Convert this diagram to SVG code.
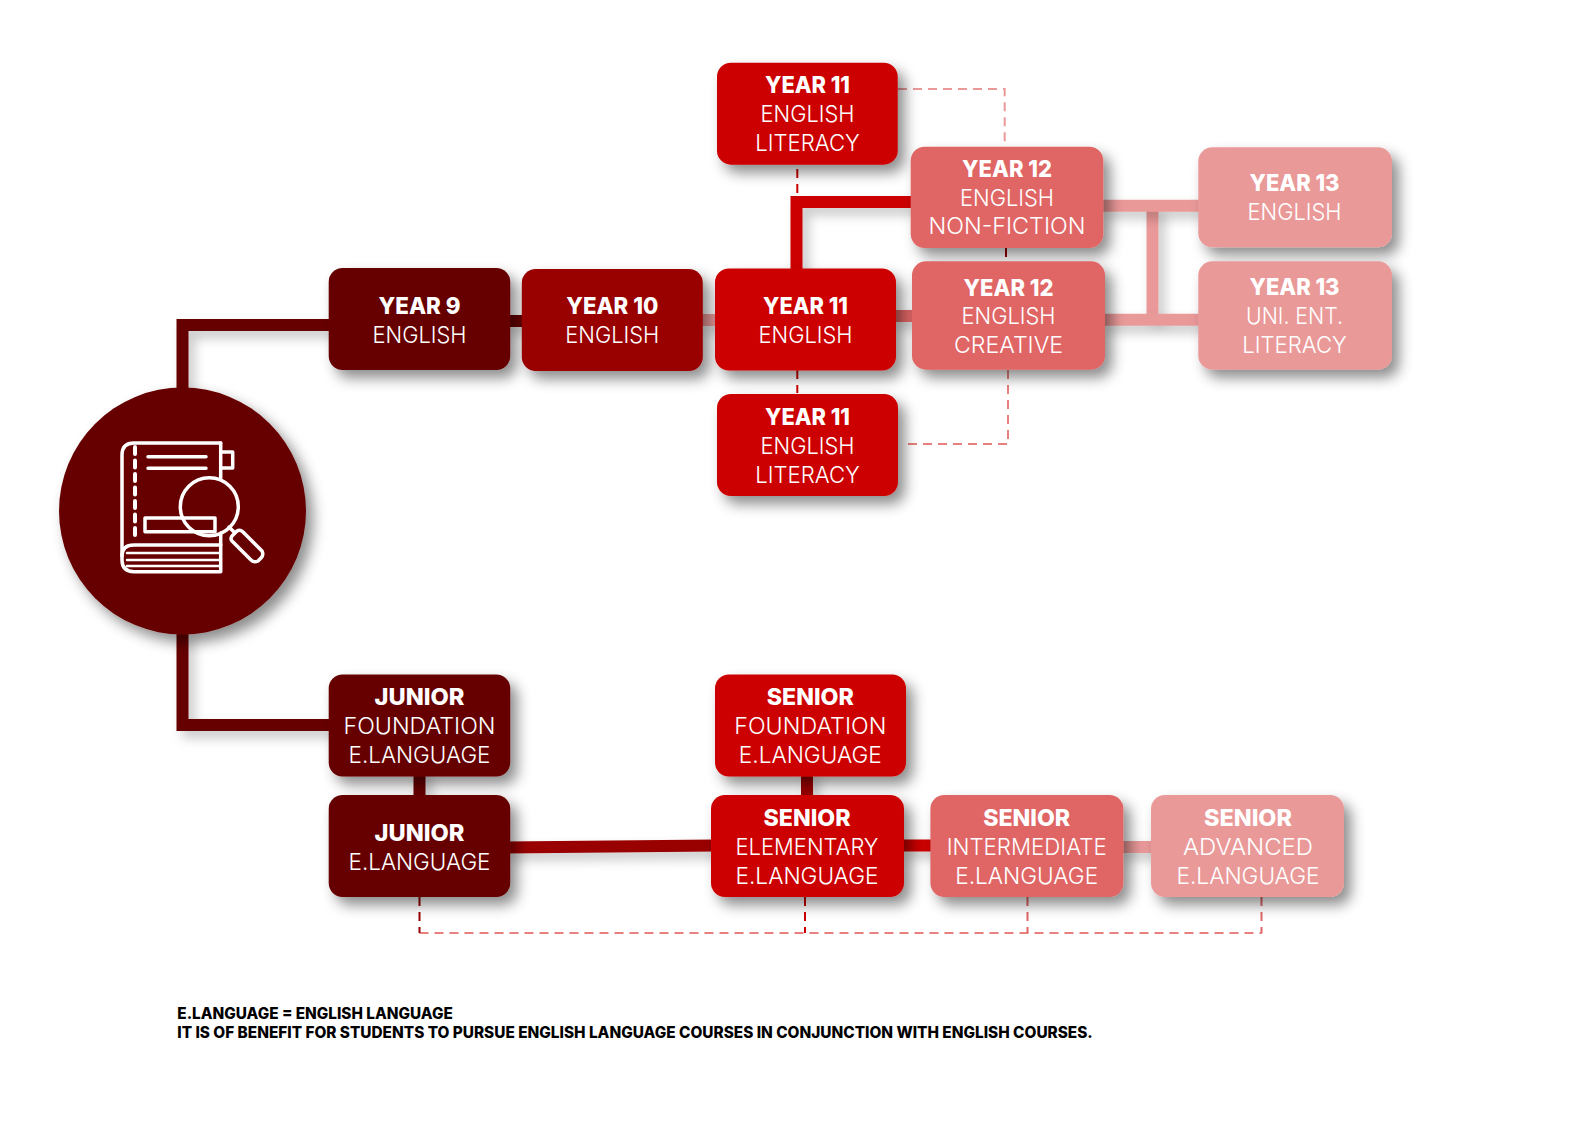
<svg xmlns="http://www.w3.org/2000/svg" width="1586" height="1122" viewBox="0 0 1586 1122">
<style>
text{font-family:"Inter","Noto Sans","Liberation Sans",sans-serif;fill:#fff;text-anchor:middle}
.b{font-size:23px;font-weight:800}
.r{font-size:23px;font-weight:300}
.f{font-size:15.5px;font-weight:800;fill:#000;text-anchor:start}
.n{filter:url(#s)}
.c{fill:none;stroke-width:12;filter:url(#s2)}
.d{fill:none;stroke-width:2;stroke-dasharray:9 6}
.i{fill:none;stroke:#fff;stroke-width:3.500;stroke-linecap:round;stroke-linejoin:round}
.c1{fill:#660000}.c2{fill:#990000}.c3{fill:#cc0000}.c4{fill:#e06666}.c5{fill:#ea9999}
</style>
<defs>
<filter id="s" x="-20%" y="-20%" width="150%" height="150%"><feDropShadow dx="7" dy="8" stdDeviation="7" flood-color="#000" flood-opacity=".45"/></filter>
<filter id="s2" x="0" y="0" width="1586" height="1122" filterUnits="userSpaceOnUse"><feDropShadow dx="6" dy="7" stdDeviation="6" flood-color="#000" flood-opacity=".22"/></filter>
</defs>
<g id="connectors">
<path class="d" stroke="#ea9999" d="M898 89H1004.700V143"/>
<path class="d" stroke="#cc0000" d="M797.300 169V196"/>
<path class="d" stroke="#cc0000" d="M797.300 370V393"/>
<path class="d" stroke="#990000" d="M1006 248V261"/>
<path class="d" stroke="#e88080" d="M1008 370V444H903"/>
<path class="d" stroke="#e88080" d="M419.500 933H1262"/>
<path class="d" stroke="#990000" d="M419.500 897V933"/>
<path class="d" stroke="#cc0000" d="M805 897V933"/>
<path class="d" stroke="#e06666" d="M1027.500 897V933"/>
<path class="d" stroke="#e06666" d="M1261.500 897V933"/>
<path class="c" stroke="#660000" d="M182.500 390V325H330"/>
<path class="c" stroke="#660000" d="M182.500 630V725H330"/>
<path class="c" stroke="#660000" d="M505 321H525"/>
<path class="c" stroke="#ea9999" d="M700 320H720"/>
<path class="c" stroke="#e06666" d="M890 316H915"/>
<path class="c" stroke="#cc0000" d="M796.500 270V202H915"/>
<path class="c" stroke="#ea9999" d="M1152.500 206V318"/>
<path class="c" stroke="#ea9999" d="M1100 205.700H1200"/>
<path class="c" stroke="#ea9999" d="M1100 319.700H1200"/>
<path class="c" stroke="#660000" d="M419.500 770V800"/>
<path class="c" stroke="#990000" d="M505 847.500L715 845.500"/>
<path class="c" stroke="#990000" d="M807 770V800"/>
<path class="c" stroke="#cc0000" d="M900 845.500H935"/>
<path class="c" stroke="#ea9999" d="M1118 847H1155"/>
</g>
<g id="hub">
<circle class="n c1" cx="182.500" cy="511" r="123.500"/>
<g class="i">
<path d="M220.700 443H134Q122 443 122 455V560Q122 571.700 134 571.700H220.700V533"/>
<path d="M220.700 443V478"/>
<path d="M122 556Q122 545 134 545H220.700"/>
<path d="M127 553H220M127 560H220M127 566H220" stroke-width="2.500"/>
<path d="M135 447V538" stroke-width="4" stroke-dasharray="7 6.500"/>
<path d="M148 456.700H206M148 468.300H206"/>
<path d="M220.700 452H232.700V468H220.700"/>
<path d="M145 518H215V531.700H145Z"/>
<circle cx="209.300" cy="506.700" r="29"/>
<path d="M229 527L234 532"/>
<path d="M232 536L237 531Q240 529 243 532L262 551Q264 555 261 558L258 561Q254 563 251 560L232 541Q230 539 232 536Z"/>
</g>
</g>
<g id="y9"><rect class="n c1" x="328.700" y="268" width="181.500" height="102" rx="14"/><text class="b" x="419.500" y="313.500" textLength="82" lengthAdjust="spacingAndGlyphs">YEAR 9</text><text class="r" x="419.500" y="342.500" textLength="94" lengthAdjust="spacingAndGlyphs">ENGLISH</text></g>
<g id="y10"><rect class="n c2" x="521.800" y="269" width="181" height="102" rx="14"/><text class="b" x="612.300" y="313.500" textLength="92" lengthAdjust="spacingAndGlyphs">YEAR 10</text><text class="r" x="612.300" y="342.500" textLength="94" lengthAdjust="spacingAndGlyphs">ENGLISH</text></g>
<g id="y11"><rect class="n c3" x="715" y="268.500" width="181" height="102" rx="14"/><text class="b" x="805.500" y="313.500" textLength="85" lengthAdjust="spacingAndGlyphs">YEAR 11</text><text class="r" x="805.500" y="342.500" textLength="94" lengthAdjust="spacingAndGlyphs">ENGLISH</text></g>
<g id="y11a"><rect class="n c3" x="717" y="62.700" width="180.700" height="102" rx="14"/><text class="b" x="807.500" y="93.300" textLength="85" lengthAdjust="spacingAndGlyphs">YEAR 11</text><text class="r" x="807.500" y="122.300" textLength="94" lengthAdjust="spacingAndGlyphs">ENGLISH</text><text class="r" x="807.500" y="151" textLength="104.500" lengthAdjust="spacingAndGlyphs">LITERACY</text></g>
<g id="y11b"><rect class="n c3" x="717" y="394" width="181" height="102" rx="14"/><text class="b" x="807.500" y="424.700" textLength="85" lengthAdjust="spacingAndGlyphs">YEAR 11</text><text class="r" x="807.500" y="453.700" textLength="94" lengthAdjust="spacingAndGlyphs">ENGLISH</text><text class="r" x="807.500" y="482.700" textLength="104.500" lengthAdjust="spacingAndGlyphs">LITERACY</text></g>
<g id="y12a"><rect class="n c4" x="910.700" y="146.700" width="192.600" height="101.300" rx="14"/><text class="b" x="1007" y="176.500" textLength="90" lengthAdjust="spacingAndGlyphs">YEAR 12</text><text class="r" x="1007" y="205.500" textLength="94" lengthAdjust="spacingAndGlyphs">ENGLISH</text><text class="r" x="1007" y="234.300" textLength="157" lengthAdjust="spacingAndGlyphs">NON-FICTION</text></g>
<g id="y12b"><rect class="n c4" x="912" y="261.300" width="193" height="108.400" rx="14"/><text class="b" x="1008.500" y="295.500" textLength="90" lengthAdjust="spacingAndGlyphs">YEAR 12</text><text class="r" x="1008.500" y="324" textLength="94" lengthAdjust="spacingAndGlyphs">ENGLISH</text><text class="r" x="1008.500" y="353" textLength="109" lengthAdjust="spacingAndGlyphs">CREATIVE</text></g>
<g id="y13a"><rect class="n c5" x="1198.300" y="147.300" width="193.700" height="100" rx="14"/><text class="b" x="1294.500" y="191" textLength="90" lengthAdjust="spacingAndGlyphs">YEAR 13</text><text class="r" x="1294.500" y="220" textLength="94" lengthAdjust="spacingAndGlyphs">ENGLISH</text></g>
<g id="y13b"><rect class="n c5" x="1198.300" y="261.300" width="193.700" height="108.400" rx="14"/><text class="b" x="1294.500" y="295" textLength="90" lengthAdjust="spacingAndGlyphs">YEAR 13</text><text class="r" x="1294.500" y="324" textLength="97" lengthAdjust="spacingAndGlyphs">UNI. ENT.</text><text class="r" x="1294.500" y="353" textLength="104.500" lengthAdjust="spacingAndGlyphs">LITERACY</text></g>
<g id="jf"><rect class="n c1" x="328.700" y="674.500" width="181.500" height="102" rx="14"/><text class="b" x="419.500" y="705" textLength="90" lengthAdjust="spacingAndGlyphs">JUNIOR</text><text class="r" x="419.500" y="734" textLength="152" lengthAdjust="spacingAndGlyphs">FOUNDATION</text><text class="r" x="419.500" y="763" textLength="142" lengthAdjust="spacingAndGlyphs">E.LANGUAGE</text></g>
<g id="j"><rect class="n c1" x="328.700" y="795" width="181.500" height="102" rx="14"/><text class="b" x="419.500" y="840.500" textLength="90" lengthAdjust="spacingAndGlyphs">JUNIOR</text><text class="r" x="419.500" y="869.500" textLength="142" lengthAdjust="spacingAndGlyphs">E.LANGUAGE</text></g>
<g id="sf"><rect class="n c3" x="715" y="674.500" width="191" height="102" rx="14"/><text class="b" x="810.300" y="705" textLength="87" lengthAdjust="spacingAndGlyphs">SENIOR</text><text class="r" x="810.300" y="734" textLength="152" lengthAdjust="spacingAndGlyphs">FOUNDATION</text><text class="r" x="810.300" y="763" textLength="143" lengthAdjust="spacingAndGlyphs">E.LANGUAGE</text></g>
<g id="se"><rect class="n c3" x="711" y="795" width="193" height="102" rx="14"/><text class="b" x="807" y="825.500" textLength="87" lengthAdjust="spacingAndGlyphs">SENIOR</text><text class="r" x="807" y="854.500" textLength="143" lengthAdjust="spacingAndGlyphs">ELEMENTARY</text><text class="r" x="807" y="883.500" textLength="143" lengthAdjust="spacingAndGlyphs">E.LANGUAGE</text></g>
<g id="si"><rect class="n c4" x="930.400" y="795" width="193" height="102" rx="14"/><text class="b" x="1026.700" y="825.500" textLength="87" lengthAdjust="spacingAndGlyphs">SENIOR</text><text class="r" x="1026.700" y="854.500" textLength="160" lengthAdjust="spacingAndGlyphs">INTERMEDIATE</text><text class="r" x="1026.700" y="883.500" textLength="143" lengthAdjust="spacingAndGlyphs">E.LANGUAGE</text></g>
<g id="sa"><rect class="n c5" x="1151" y="795" width="193" height="102" rx="14"/><text class="b" x="1248" y="825.500" textLength="88" lengthAdjust="spacingAndGlyphs">SENIOR</text><text class="r" x="1248" y="854.500" textLength="130" lengthAdjust="spacingAndGlyphs">ADVANCED</text><text class="r" x="1248" y="883.500" textLength="143" lengthAdjust="spacingAndGlyphs">E.LANGUAGE</text></g>
<g id="note"><text class="f" x="177.300" y="1018.500" textLength="275.500" lengthAdjust="spacingAndGlyphs">E.LANGUAGE = ENGLISH LANGUAGE</text><text class="f" x="177.300" y="1037.500" textLength="915.500" lengthAdjust="spacingAndGlyphs">IT IS OF BENEFIT FOR STUDENTS TO PURSUE ENGLISH LANGUAGE COURSES IN CONJUNCTION WITH ENGLISH COURSES.</text></g>
</svg>
